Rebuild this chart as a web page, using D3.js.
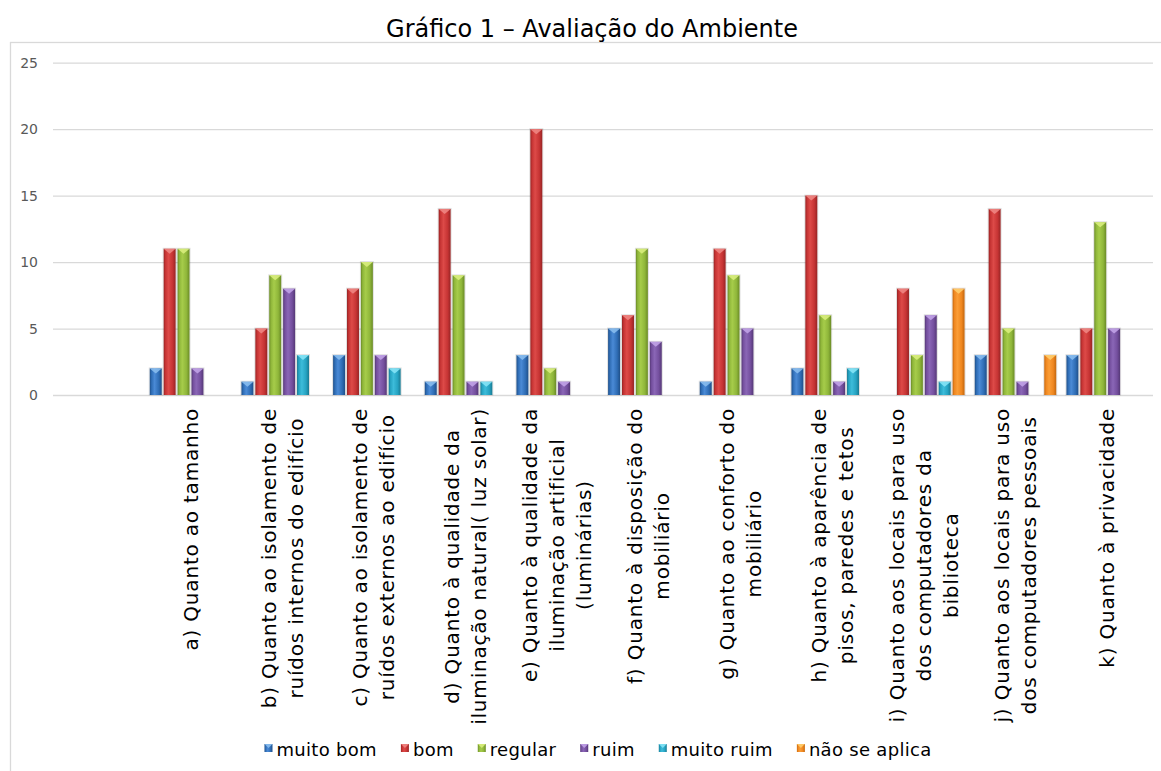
<!DOCTYPE html>
<html>
<head>
<meta charset="utf-8">
<script src="https://cdn.jsdelivr.net/npm/d3@7"></script>
<style>
  html, body { margin: 0; padding: 0; background: #fff; }
  svg { display: block; font-family: "DejaVu Sans", sans-serif; }
</style>
</head>
<body>
<svg id="chart" width="1161" height="771"></svg>
<script>
// Categories (line breaks mark the wrapped axis labels)
const categories = [
  "a) Quanto ao tamanho",
  "b) Quanto ao isolamento de\nruídos internos do edifício",
  "c) Quanto ao isolamento de\nruídos externos ao edifício",
  "d) Quanto à qualidade da\niluminação natural( luz solar)",
  "e) Quanto à qualidade da\niluminação artificial\n(luminárias)",
  "f) Quanto à disposição do\nmobiliário",
  "g) Quanto ao conforto do\nmobiliário",
  "h) Quanto à aparência de\npisos, paredes e tetos",
  "i) Quanto aos locais para uso\ndos computadores da\nbiblioteca",
  "j) Quanto aos locais para uso\ndos computadores pessoais",
  "k) Quanto à privacidade"
];

const seriesNames = ["muito bom", "bom", "regular", "ruim", "muito ruim", "não se aplica"];

// Answers per category, one array per series
const muitoBom   = [2, 1, 3, 1, 3, 5, 1, 2, 0, 3, 3];
const bom        = [11, 5, 8, 14, 20, 6, 11, 15, 8, 14, 5];
const regular    = [11, 9, 10, 9, 2, 11, 9, 6, 3, 5, 13];
const ruim       = [2, 8, 3, 1, 1, 4, 5, 1, 6, 1, 5];
const muitoRuim  = [0, 3, 2, 1, 0, 0, 0, 2, 1, 0, 0];
const naoSeAplica = [0, 0, 0, 0, 0, 0, 0, 0, 8, 3, 0];

const yTicks = [0, 5, 10, 15, 20, 25];
const chartTitle = "Gráfico 1 – Avaliação do Ambiente";

const seriesValues = [muitoBom, bom, regular, ruim, muitoRuim, naoSeAplica];

// Base, light and dark tones for the bevelled bars
const palette = [
  { base: "#2f6db5", light: "#4a8ad6", dark: "#1f4f88", cap: "#8cc0f0" },
  { base: "#c63434", light: "#dd4a48", dark: "#962424", cap: "#f08a86" },
  { base: "#8fb63a", light: "#a6cc4a", dark: "#6a8a26", cap: "#dcf080" },
  { base: "#744f9e", light: "#8a66b6", dark: "#553876", cap: "#c4a6ea" },
  { base: "#26a3c2", light: "#3dbcda", dark: "#1a7a92", cap: "#8ae6f8" },
  { base: "#ef8720", light: "#fb9d36", dark: "#c2660e", cap: "#ffd070" }
];

const svg = d3.select("#chart");
const W = 1161, H = 771;

// Outer chart frame
svg.append("rect")
  .attr("x", 10.5).attr("y", 42.5)
  .attr("width", W).attr("height", H)
  .attr("fill", "#fff").attr("stroke", "#d9d9d9").attr("stroke-width", 1.3);

// Title
svg.append("text")
  .attr("x", 592).attr("y", 37)
  .attr("text-anchor", "middle")
  .attr("font-size", 24)
  .attr("fill", "#000")
  .text(chartTitle);

const plot = { left: 53, right: 1153, top: 62.7, bottom: 395 };

// The first category slot is left empty, as in the layout of the chart
const xDomain = [""].concat(categories);
const x0 = d3.scaleBand().domain(xDomain).range([plot.left, plot.right]).padding(0);
const x1 = d3.scaleBand().domain(d3.range(seriesNames.length))
  .range([0, x0.bandwidth()])
  .paddingInner(0.137).paddingOuter(0.366);
const y = d3.scaleLinear().domain([0, 25]).range([plot.bottom, plot.top]);

// Gradients
const defs = svg.append("defs");
palette.forEach((p, i) => {
  const g = defs.append("linearGradient").attr("id", "grad" + i)
    .attr("x1", "0").attr("x2", "1").attr("y1", "0").attr("y2", "0");
  g.append("stop").attr("offset", "0").attr("stop-color", p.dark);
  g.append("stop").attr("offset", "0.15").attr("stop-color", p.base);
  g.append("stop").attr("offset", "0.4").attr("stop-color", p.light);
  g.append("stop").attr("offset", "0.75").attr("stop-color", p.base);
  g.append("stop").attr("offset", "1").attr("stop-color", p.dark);
});

// Gridlines and y axis labels
const yAxis = d3.axisLeft(y).tickValues(yTicks).tickSize(-(plot.right - plot.left)).tickPadding(15);
const yg = svg.append("g").attr("transform", `translate(${plot.left},0)`).call(yAxis);
yg.select(".domain").remove();
yg.selectAll(".tick line").attr("stroke", "#d9d9d9").attr("stroke-width", 1.3);
yg.selectAll(".tick text").attr("fill", "#595959").attr("font-size", 14)
  .attr("font-family", "DejaVu Sans, sans-serif");

// Bars
const barLayer = svg.append("g");
categories.forEach((cat, ci) => {
  seriesValues.forEach((vals, si) => {
    const v = vals[ci];
    if (!v) return;
    const bx = x0(cat) + x1(si);
    const bw = x1.bandwidth();
    const by = y(v);
    const bh = y(0) - by;
    const p = palette[si];
    barLayer.append("rect")
      .attr("x", bx - 0.5).attr("y", by - 0.5)
      .attr("width", bw + 1).attr("height", bh + 0.5)
      .attr("fill", "none").attr("stroke", "rgba(0,0,0,0.12)").attr("stroke-width", 1);
    barLayer.append("rect")
      .attr("x", bx).attr("y", by).attr("width", bw).attr("height", bh)
      .attr("fill", `url(#grad${si})`);
    // small bevel cap at the top of the bar
    barLayer.append("path")
      .attr("d", `M${bx},${by}L${bx + bw},${by}L${bx + bw / 2},${by + Math.min(5, bh)}Z`)
      .attr("fill", p.cap).attr("opacity", 0.85);
  });
});

// Category axis labels, rotated
const labelLayer = svg.append("g")
  .attr("font-size", 20)
  .attr("letter-spacing", 0.8)
  .attr("fill", "#000");
const lineH = 26.7;
categories.forEach(cat => {
  const lines = cat.split("\n");
  const cx = x0(cat) + x0.bandwidth() / 2;
  const g = labelLayer.append("g").attr("transform", `translate(${cx},408) rotate(-90)`);
  const texts = lines.map((ln, i) => g.append("text")
    .attr("y", (i - (lines.length - 1) / 2) * lineH)
    .attr("dy", "0.35em")
    .attr("text-anchor", "middle")
    .text(ln));
  const maxW = d3.max(texts, t => t.node().getComputedTextLength());
  texts.forEach(t => t.attr("x", -maxW / 2));
});

// Legend
const legend = svg.append("g").attr("font-size", 18).attr("letter-spacing", 0.3);
const items = seriesNames.map((name, i) => {
  const g = legend.append("g");
  g.append("rect").attr("x", 0).attr("y", -12).attr("width", 8).attr("height", 8)
    .attr("fill", `url(#grad${i})`);
  g.append("path").attr("d", "M0,-12L8,-12L4,-8Z").attr("fill", palette[i].cap).attr("opacity", 0.85);
  const t = g.append("text").attr("x", 12).attr("y", 0).attr("fill", "#000").text(name);
  return { g, w: 12 + t.node().getComputedTextLength() };
});
const gap = 24;
const totalW = d3.sum(items, d => d.w) + gap * (items.length - 1);
let lx = 598 - totalW / 2;
items.forEach(it => {
  it.g.attr("transform", `translate(${lx},756)`);
  lx += it.w + gap;
});
</script>
</body>
</html>
